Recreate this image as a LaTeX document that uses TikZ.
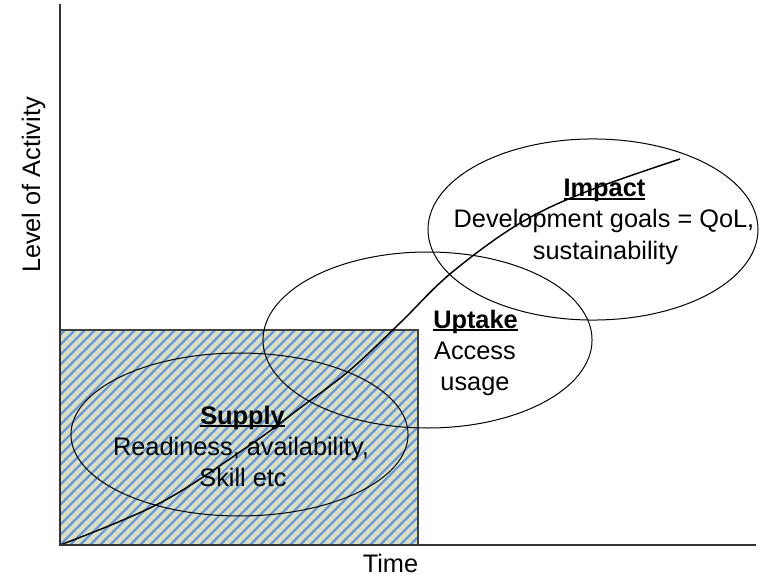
\documentclass[tikz,border=0pt]{standalone}
\usepackage{fontspec}
\setmainfont{Liberation Sans}
\definecolor{boxbg}{RGB}{216,225,198}
\definecolor{stripeblue}{RGB}{112,150,212}
\newcommand{\ulhead}[1]{\setbox0=\hbox{\bfseries #1}\rlap{\copy0}\rule[-2.6pt]{\wd0}{1.5pt}}
\begin{document}
\begin{tikzpicture}[x=0.75pt,y=-0.75pt,
  lbl/.style={font=\fontsize{19}{23}\selectfont, inner sep=0pt, anchor=base},
  oval/.style={draw=black, line width=0.75pt},
  axisline/.style={draw=black!80, line width=1.4pt},
  stripe/.style={draw=stripeblue, line width=1.8pt},
  growth/.style={draw=black, line width=1.1pt},
]
\useasboundingbox (0,0) rectangle (763,577);
% hatched supply box
\fill[boxbg] (60,330) rectangle (418,545);
\begin{scope}
  \clip (60,330) rectangle (418,545);
  \foreach \i in {-16,...,42} { \draw[stripe] (\i*10,545) -- ++(215,-215); }
\end{scope}
\draw[line width=0.9pt, draw=black!75] (60,330) rectangle (418,545);
% ellipses
\draw[oval] (239.5,434.5) ellipse [x radius=126.4pt, y radius=61.1pt];
\draw[oval] (427.5,340) ellipse [x radius=123.4pt, y radius=66pt];
\draw[oval] (593,229.5) ellipse [x radius=123.75pt, y radius=67.9pt];
% growth curve
\draw[growth] plot[smooth,tension=0.6] coordinates {(60,545) (160,503) (250,445) (300,408) (350,370) (400,323) (450,274) (517,225) (583,193) (680,159)};
% axes
\coordinate (O) at (60,545);
\coordinate (ytop) at (60,4);
\coordinate (xend) at (756,545);
\draw[axisline] (ytop) -- (O) -- (xend);
\node[lbl, rotate=90] (ylab) at (40,185) {Level of Activity};
\node[lbl] (xlab) at (390.5,572) {Time};
% texts
\node[lbl] (supplyH) at (242.5,424) {\ulhead{Supply}};
\node[lbl] (supplyA) at (241,455) {Readiness, availability,};
\node[lbl] (supplyB) at (243,486) {Skill etc};
\node[lbl] (uptakeH) at (475.5,328) {\ulhead{Uptake}};
\node[lbl] (uptakeA) at (475,359) {Access};
\node[lbl] (uptakeB) at (475,390) {usage};
\node[lbl] (impactH) at (604.5,197) {\ulhead{Impact}};
\node[lbl] (impactA) at (604,228) {Development goals = QoL,};
\node[lbl] (impactB) at (605.5,259) {sustainability};
\end{tikzpicture}
\end{document}
